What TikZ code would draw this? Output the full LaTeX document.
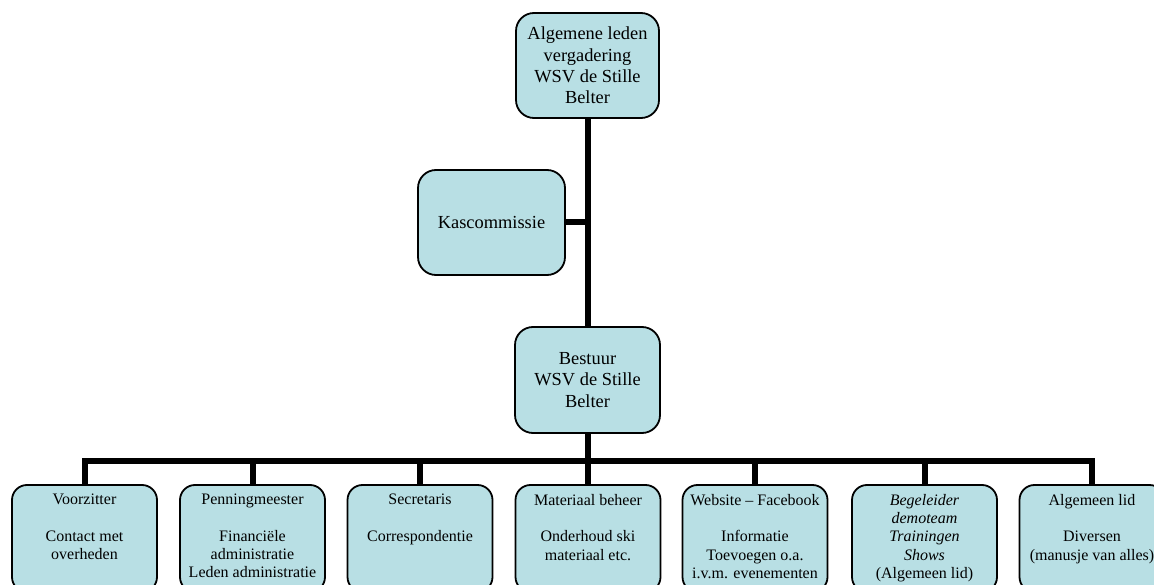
\documentclass[tikz,border=0pt]{standalone}
\usepackage{fontspec}
\setmainfont{Liberation Serif}
\definecolor{boxfill}{RGB}{184,223,228}
\newcommand\lowtext[1]{\parbox[c][107pt][t]{145pt}{\centering\vspace*{9pt}#1}}
\tikzset{
  box/.style={draw=black, line width=1.8pt, fill=boxfill, inner sep=0pt, align=center},
  upbox/.style={box, rounded corners=18pt, minimum height=105pt,
    font=\fontsize{18.4}{21.3}\selectfont},
  lowbox/.style={box, rounded corners=15pt, font=\fontsize{16}{18.3}\selectfont},
  link/.style={line width=6pt, draw=black}
}
\begin{document}
\begin{tikzpicture}[x=1pt,y=-1pt]
\useasboundingbox (0,0) rectangle (1154,585);
\clip (0,0) rectangle (1154,585);
% upper part
\node[upbox, minimum width=143pt] (alv) at (587.5,65.5) {Algemene leden\\vergadering\\WSV de Stille\\Belter};
\node[upbox, minimum width=147pt] (kas) at (491.5,222.5) {Kascommissie};
\node[upbox, minimum width=145pt, minimum height=106pt] (best) at (587.5,380) {Bestuur\\WSV de Stille\\Belter};
% lower boxes
\node[lowbox] (vz) at (84.5,538.5) {\lowtext{Voorzitter\\[18.3pt]Contact met\\overheden}};
\node[lowbox] (pm) at (252.5,538.5) {\lowtext{Penningmeester\\[18.3pt]Financiële\\administratie\\Leden administratie}};
\node[lowbox] (sec) at (420,538.5) {\lowtext{Secretaris\\[18.3pt]Correspondentie}};
\node[lowbox] (mat) at (588,538.5) {\lowtext{Materiaal beheer\\[18.3pt]Onderhoud ski\\materiaal etc.}};
\node[lowbox] (web) at (755,538.5) {\lowtext{Website -- Facebook\\[18.3pt]Informatie\\Toevoegen o.a.\\i.v.m. evenementen}};
\node[lowbox] (beg) at (924.5,538.5) {\lowtext{\textit{Begeleider}\\\textit{demoteam}\\\textit{Trainingen}\\\textit{Shows}\\(Algemeen lid)}};
\node[lowbox] (alg) at (1092,538.5) {\lowtext{Algemeen lid\\[18.3pt]Diversen\\(manusje van alles)}};
% connectors
\coordinate (bus) at (588,461);
\draw[link] ([xshift=0.5pt]alv.south) -- ([xshift=0.5pt]best.north);
\draw[link] (kas.east) -- (kas.east -| bus);
\draw[link] ([xshift=0.5pt]best.south) -- (bus);
\foreach \c in {vz,pm,sec,mat,web,beg,alg}{
  \draw[link] (bus) -| (\c.north);
}
\end{tikzpicture}
\end{document}
